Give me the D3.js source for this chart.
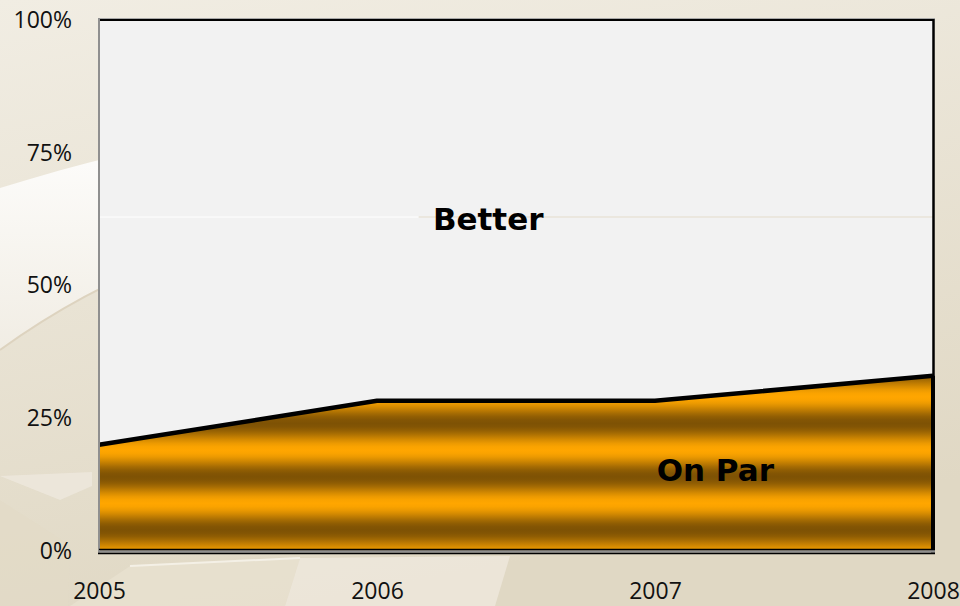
<!DOCTYPE html>
<html>
<head>
<meta charset="utf-8">
<script src="https://cdn.jsdelivr.net/npm/d3@7"></script>
<style>
  html, body { margin: 0; padding: 0; background: #ebe5d8; }
  svg { display: block; }
  .tick text { fill: #111; }
</style>
</head>
<body>
<svg id="chart" width="960" height="606"></svg>
<script>
// data
const years = [2005, 2006, 2007, 2008];
const onPar = [0.20, 0.283, 0.283, 0.33];
const better = [0.80, 0.717, 0.717, 0.67];
const seriesNames = ["On Par", "Better"];
const yTicks = [0, 0.25, 0.5, 0.75, 1];

const width = 960, height = 606;
const margin = { top: 20, right: 26, bottom: 55, left: 99 };

const svg = d3.select("#chart");
const defs = svg.append("defs");

// page background
const bg = defs.append("linearGradient").attr("id", "bg")
  .attr("x1", 0).attr("y1", 0).attr("x2", 0.3).attr("y2", 1);
bg.append("stop").attr("offset", 0).attr("stop-color", "#f1ede3");
bg.append("stop").attr("offset", 1).attr("stop-color", "#e0d8c4");

const swoosh = defs.append("linearGradient").attr("id", "swoosh")
  .attr("x1", 0).attr("y1", 0).attr("x2", 0).attr("y2", 1);
swoosh.append("stop").attr("offset", 0).attr("stop-color", "#ffffff");
swoosh.append("stop").attr("offset", 1).attr("stop-color", "#f1ede4");

// repeating horizontal bands of the "On Par" fill, smooth light/dark wave
const stripes = defs.append("linearGradient").attr("id", "stripes")
  .attr("gradientUnits", "userSpaceOnUse")
  .attr("x1", 0).attr("x2", 0).attr("y1", 396.7).attr("y2", 450)
  .attr("spreadMethod", "repeat");
const bandColor = d3.interpolateRgb("#ffa600", "#7e5204");
d3.range(0, 1.0001, 0.0625).forEach(o => {
  const w = (1 - Math.cos(o * 2 * Math.PI)) / 2;
  stripes.append("stop").attr("offset", o).attr("stop-color", bandColor(w));
});

svg.append("rect").attr("width", width).attr("height", height).attr("fill", "url(#bg)");

// decorative background shapes
const deco = svg.append("g");
deco.append("path")
  .attr("d", "M0,188 C120,150 260,120 420,112 L420,200 C250,215 110,270 0,350 Z")
  .attr("fill", "url(#swoosh)");
deco.append("path")
  .attr("d", "M0,350 C110,270 250,215 420,200")
  .attr("fill", "none").attr("stroke", "#ddd3bf").attr("stroke-width", 2);
deco.append("path")
  .attr("d", "M0,476 L92,472 L92,486 L60,500 Z")
  .attr("fill", "#efeadf").attr("opacity", 0.7);
deco.append("path")
  .attr("d", "M0,500 L70,545 L68,606 L0,606 Z")
  .attr("fill", "#e2dac6").attr("opacity", 0.6);
deco.append("path")
  .attr("d", "M70,606 L130,566 L300,558 L285,606 Z")
  .attr("fill", "#e8e1d0").attr("opacity", 0.8);
deco.append("path")
  .attr("d", "M300,558 L510,556 L495,606 L285,606 Z")
  .attr("fill", "#efe9dd").attr("opacity", 0.8);
deco.append("path")
  .attr("d", "M130,566 L300,558")
  .attr("stroke", "#f4f0e6").attr("stroke-width", 2).attr("fill", "none");

const x = d3.scaleLinear()
  .domain(d3.extent(years))
  .range([margin.left, width - margin.right - 1]);
const y = d3.scaleLinear()
  .domain([0, 1])
  .range([height - margin.bottom, margin.top]);

const rows = years.map((yr, i) => ({ year: yr, "On Par": onPar[i], "Better": better[i] }));
const stacked = d3.stack().keys(seriesNames)(rows);

const area = d3.area()
  .x(d => x(d.data.year))
  .y0(d => y(d[0]))
  .y1(d => y(d[1]));

const fills = { "On Par": "url(#stripes)", "Better": "#f2f2f2" };

const plot = svg.append("g");
plot.selectAll("path.layer")
  .data(stacked.slice().reverse())
  .join("path")
  .attr("class", "layer")
  .attr("d", area)
  .attr("fill", d => fills[d.key])
  .attr("stroke", d => d.key === "On Par" ? "#000" : "none")
  .attr("stroke-width", 1.5);

// faint line crossing the plot (background showing through)
const yFaint = y(0.629);
plot.append("line")
  .attr("x1", x(2005)).attr("x2", x(2006.15)).attr("y1", yFaint).attr("y2", yFaint)
  .attr("stroke", "#ffffff").attr("stroke-width", 1);
plot.append("line")
  .attr("x1", x(2006.15)).attr("x2", x(2008)).attr("y1", yFaint).attr("y2", yFaint)
  .attr("stroke", "#e4dccb").attr("stroke-width", 1);

// thick outline on top of the On Par band
const topLine = d3.line()
  .x(d => x(d.data.year))
  .y(d => y(d[1]));
plot.append("path")
  .datum(stacked[0])
  .attr("d", topLine)
  .attr("fill", "none")
  .attr("stroke", "#000")
  .attr("stroke-width", 4.5)
  .attr("stroke-linejoin", "round");

// frame
const x0 = x(2005), x1 = x(2008), yTop = y(1), yBot = y(0);
plot.append("line").attr("x1", x0).attr("x2", x1 + 2).attr("y1", yTop - 1.5).attr("y2", yTop - 1.5)
  .attr("stroke", "#a8a8a8").attr("stroke-width", 1);
plot.append("line").attr("x1", x0).attr("x2", x1 + 1).attr("y1", yTop).attr("y2", yTop)
  .attr("stroke", "#000").attr("stroke-width", 2);
plot.append("line").attr("x1", x0).attr("x2", x0).attr("y1", yTop - 2).attr("y2", yBot + 3)
  .attr("stroke", "#8f8f8f").attr("stroke-width", 2);
plot.append("line").attr("x1", x1 + 0.5).attr("x2", x1 + 0.5).attr("y1", yTop - 1).attr("y2", yBot + 2)
  .attr("stroke", "#000").attr("stroke-width", 2.5);
plot.append("line").attr("x1", x1).attr("x2", x1).attr("y1", y(0.33)).attr("y2", yBot + 2)
  .attr("stroke", "#000").attr("stroke-width", 4);
plot.append("line").attr("x1", x0).attr("x2", x1 + 2).attr("y1", yBot - 1.5).attr("y2", yBot - 1.5)
  .attr("stroke", "#000").attr("stroke-width", 1.5);
plot.append("line").attr("x1", x0).attr("x2", x1 + 2).attr("y1", yBot + 0.5).attr("y2", yBot + 0.5)
  .attr("stroke", "#8f8f8f").attr("stroke-width", 2.5);
plot.append("line").attr("x1", x0 - 1).attr("x2", x1 + 2).attr("y1", yBot + 2.5).attr("y2", yBot + 2.5)
  .attr("stroke", "#000").attr("stroke-width", 1.5);

// axes
const yAxis = svg.append("g")
  .attr("transform", `translate(${x0},0)`)
  .call(d3.axisLeft(y).tickValues(yTicks).tickSize(0).tickPadding(27).tickFormat(d3.format(".0%")));
yAxis.select(".domain").remove();
yAxis.selectAll("text")
  .attr("font-family", "'Open Sans', sans-serif")
  .attr("font-size", 23);

const xAxis = svg.append("g")
  .attr("transform", `translate(0,${yBot})`)
  .call(d3.axisBottom(x).tickValues(years).tickSize(0).tickPadding(32).tickFormat(d3.format("d")));
xAxis.select(".domain").remove();
xAxis.selectAll("text")
  .attr("font-family", "'Open Sans', sans-serif")
  .attr("font-size", 23);

// series labels
const labels = [
  { text: "Better", year: 2006.40, value: 0.6045 },
  { text: "On Par", year: 2007.217, value: 0.132 }
];
svg.append("g").selectAll("text")
  .data(labels)
  .join("text")
  .attr("x", d => x(d.year))
  .attr("y", d => y(d.value))
  .attr("text-anchor", "middle")
  .attr("font-family", "'DejaVu Sans', Verdana, sans-serif")
  .attr("font-weight", "bold")
  .attr("font-size", 31)
  .attr("fill", "#000")
  .text(d => d.text);
</script>
</body>
</html>
